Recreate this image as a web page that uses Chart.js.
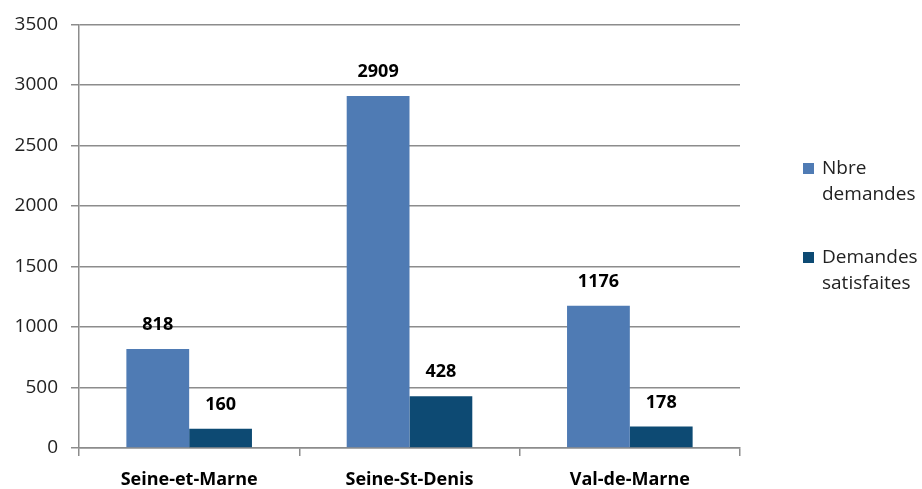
<!DOCTYPE html>
<html>
<head>
<meta charset="utf-8">
<script src="https://cdn.jsdelivr.net/npm/chart.js@4/dist/chart.umd.min.js"></script>
<style>
  html, body { margin: 0; padding: 0; background: #fff; }
  #wrap { width: 922px; height: 489px; }
</style>
</head>
<body>
<div id="wrap"><canvas id="chart" width="922" height="489"></canvas></div>
<script>
// Data
const categories = ["Seine-et-Marne", "Seine-St-Denis", "Val-de-Marne"];
const nbreDemandes = [818, 2909, 1176];
const demandesSatisfaites = [160, 428, 178];
const legendLines = [["Nbre", "demandes"], ["Demandes", "satisfaites"]];

const colBlue = "#4F7BB4";
const colDark = "#0D4A73";
const gridCol = "#8C8C8C";
const fontFam = "'Open Sans', 'DejaVu Sans', sans-serif";

// value labels above each bar
const valueLabels = {
  id: "valueLabels",
  afterDatasetsDraw(chart) {
    const ctx = chart.ctx;
    ctx.save();
    ctx.font = "bold 18px " + fontFam;
    ctx.fillStyle = "#000";
    ctx.textAlign = "center";
    ctx.textBaseline = "middle";
    chart.data.datasets.forEach((ds, i) => {
      chart.getDatasetMeta(i).data.forEach((bar, j) => {
        ctx.fillText(ds.data[j], bar.x, bar.y - 24);
      });
    });
    ctx.restore();
  },
};

// legend on the right with wrapped text
const sideLegend = {
  id: "sideLegend",
  afterDraw(chart) {
    const ctx = chart.ctx;
    ctx.save();
    ctx.font = "19px " + fontFam;
    ctx.textBaseline = "middle";
    ctx.textAlign = "left";
    const tops = [163, 252];
    chart.data.datasets.forEach((ds, i) => {
      ctx.fillStyle = ds.backgroundColor;
      ctx.fillRect(803, tops[i], 11, 11);
      ctx.fillStyle = "#222";
      legendLines[i].forEach((t, k) => {
        ctx.fillText(t, 822, tops[i] + 6 + k * 26);
      });
    });
    ctx.restore();
  },
};

new Chart(document.getElementById("chart"), {
  type: "bar",
  data: {
    labels: categories,
    datasets: [
      { label: "Nbre demandes", data: nbreDemandes, backgroundColor: colBlue },
      { label: "Demandes satisfaites", data: demandesSatisfaites, backgroundColor: colDark },
    ],
  },
  options: {
    responsive: false,
    animation: false,
    layout: { padding: { left: 0, top: 24, right: 182, bottom: 0 } },
    datasets: { bar: { barPercentage: 1, categoryPercentage: 0.57 } },
    plugins: { legend: { display: false }, tooltip: { enabled: false } },
    scales: {
      x: {
        afterFit(scale) { scale.height = 41; },
        grid: {
          offset: true,
          drawOnChartArea: false,
          color: gridCol,
          lineWidth: 1.5,
          tickLength: 8,
        },
        border: { color: gridCol, width: 1.5 },
        ticks: {
          color: "#000",
          font: { family: fontFam, size: 18, weight: "bold" },
          padding: 13,
        },
      },
      y: {
        min: 0,
        max: 3500,
        afterFit(scale) { scale.width = 79; },
        ticks: {
          stepSize: 500,
          color: "#222",
          font: { family: fontFam, size: 19 },
          padding: 13,
          callback: (v) => String(v),
        },
        grid: { color: gridCol, lineWidth: 1.5, tickLength: 8 },
        border: { color: gridCol, width: 1.5 },
      },
    },
  },
  plugins: [valueLabels, sideLegend],
});
</script>
</body>
</html>
